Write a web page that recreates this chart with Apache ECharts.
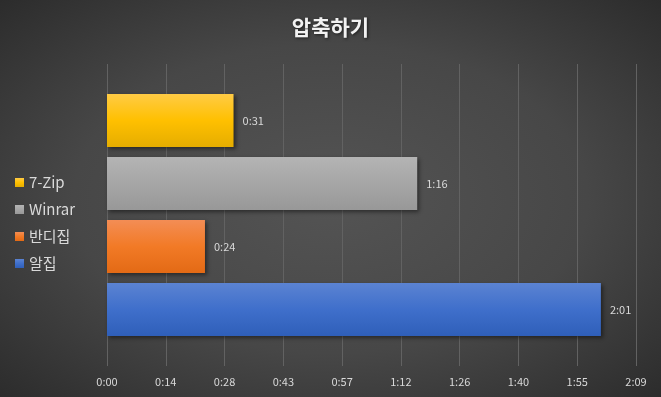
<!DOCTYPE html>
<html>
<head>
<meta charset="utf-8">
<script src="https://cdn.jsdelivr.net/npm/echarts@6/dist/echarts.min.js"></script>
<style>
  html, body { margin: 0; padding: 0; }
  #chart {
    width: 661px;
    height: 397px;
    background: radial-gradient(ellipse at 50% 50%, #545454 0%, #474747 55%, #2c2c2c 100%);
  }
</style>
</head>
<body>
<div id="chart"></div>
<script>
// 카테고리 (위에서 아래 순서)
const programs = ['7-Zip', 'Winrar', '반디집', '알집']
// 압축 시간 (초)
const seconds = [31, 76, 24, 121]
// x축 눈금 (14.4초 간격)
const tickLabels = ['0:00', '0:14', '0:28', '0:43', '0:57', '1:12', '1:26', '1:40', '1:55', '2:09']
const tickStep = 14.4

// 막대 그라데이션 색 [위, 가운데, 아래]
const barColors = [
  ['#ffcb45', '#ffc000', '#e5ad00'],
  ['#b4b4b4', '#a6a6a6', '#989898'],
  ['#f38d55', '#f27a26', '#e36a15'],
  ['#5b83d2', '#3f6fcb', '#2f5fb9'],
]
const legendColors = ['#ffc000', '#a5a5a5', '#ed7d31', '#4472c4']

function fmt(v) {
  const s = Math.round(v)
  const m = Math.floor(s / 60)
  const r = s % 60
  return m + ':' + (r < 10 ? '0' + r : r)
}

const mycharts = echarts.init(document.getElementById('chart'))

const xMax = tickStep * (tickLabels.length - 1)

const series = programs.map((name, i) => ({
  name: name,
  type: 'bar',
  stack: 'all',
  xAxisIndex: 1,
  yAxisIndex: 1,
  barWidth: 53,
  data: programs.map((p, j) => (j === i ? seconds[i] : null)),
  itemStyle: {
    color: {
      type: 'linear', x: 0, y: 0, x2: 0, y2: 1,
      colorStops: [
        { offset: 0, color: barColors[i][0] },
        { offset: 0.5, color: barColors[i][1] },
        { offset: 1, color: barColors[i][2] },
      ],
    },
    shadowColor: 'rgba(0,0,0,0.45)',
    shadowBlur: 4,
    shadowOffsetX: 2,
    shadowOffsetY: 2,
  },
  label: {
    show: true,
    position: 'right',
    distance: 9,
    color: '#d9d9d9',
    fontSize: 11,
    fontFamily: 'Noto Sans CJK KR',
    formatter: (p) => fmt(p.value),
  },
}))

mycharts.setOption({
  color: legendColors,
  title: {
    text: '압축하기',
    left: 'center',
    top: 12,
    textStyle: {
      color: '#f2f2f2',
      fontSize: 21,
      fontWeight: 'bold',
      fontFamily: 'Noto Sans CJK KR',
      textShadowColor: 'rgba(0,0,0,0.6)',
      textShadowBlur: 3,
      textShadowOffsetX: 1,
      textShadowOffsetY: 1,
    },
  },
  legend: {
    orient: 'vertical',
    left: 10,
    top: 170,
    itemWidth: 9,
    itemHeight: 9,
    itemGap: 12,
    icon: 'rect',
    textStyle: {
      color: '#d9d9d9',
      fontSize: 15,
      fontFamily: 'Noto Sans CJK KR',
    },
    data: programs,
  },
  // 0: 격자선/축 영역, 1: 막대 영역
  grid: [
    { left: 107, right: 25, top: 64, bottom: 31 },
    { left: 107, right: 25, top: 89, bottom: 56 },
  ],
  xAxis: [
    {
      type: 'value',
      gridIndex: 0,
      min: 0,
      max: xMax,
      interval: tickStep,
      axisLine: { show: false },
      axisTick: { show: false },
      splitLine: { show: true, lineStyle: { color: '#626262', width: 1 } },
      axisLabel: {
        color: '#d9d9d9',
        fontSize: 11,
        margin: 10,
        fontFamily: 'Noto Sans CJK KR',
        showMaxLabel: true,
        formatter: (v) => tickLabels[Math.round(v / tickStep)],
      },
    },
    {
      type: 'value',
      gridIndex: 1,
      min: 0,
      max: xMax,
      interval: tickStep,
      show: false,
      splitLine: { show: false },
    },
  ],
  yAxis: [
    {
      type: 'category',
      gridIndex: 0,
      data: programs,
      show: false,
    },
    {
      type: 'category',
      gridIndex: 1,
      inverse: true,
      data: programs,
      axisLine: { show: false },
      axisTick: { show: false },
      axisLabel: { show: false },
      splitLine: { show: false },
    },
  ],
  series: series,
})
</script>
</body>
</html>
